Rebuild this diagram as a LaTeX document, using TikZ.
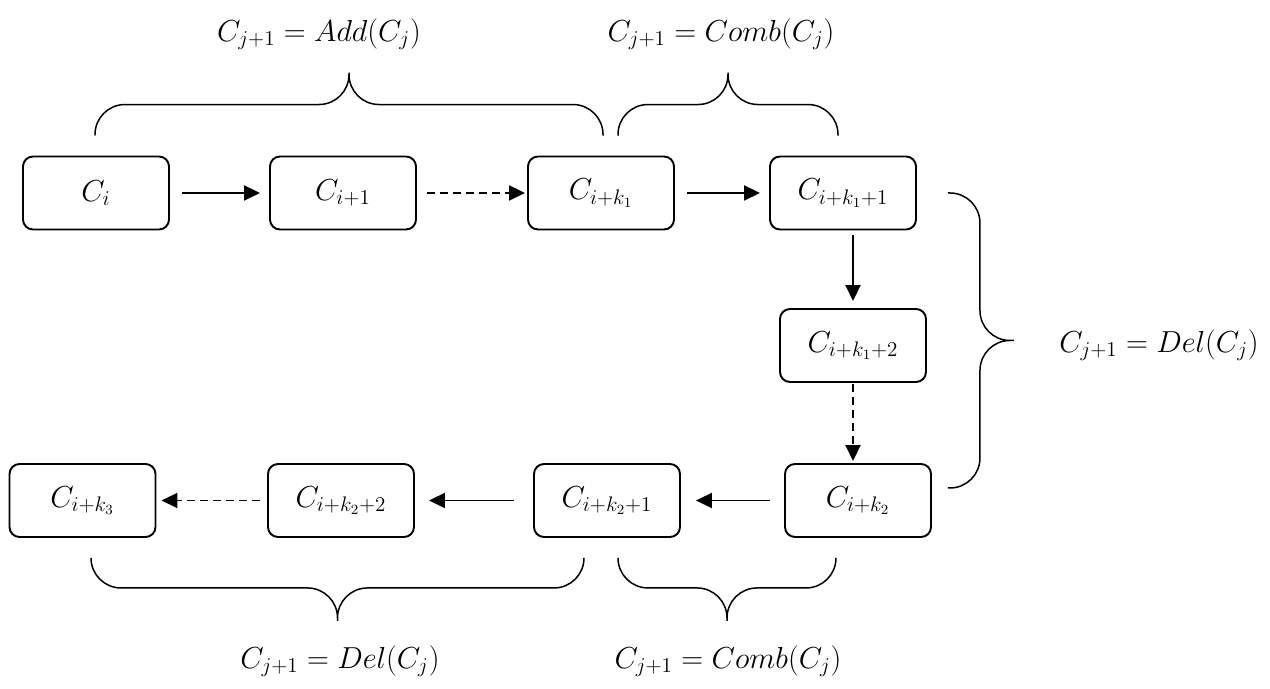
\documentclass[tikz,border=0pt]{standalone}
\usepackage{amsmath}
\usepackage{tikz}
\usetikzlibrary{arrows.meta,calc}

\begin{document}
\begin{tikzpicture}[
		state/.style={draw,line width=1.1pt,rounded corners=0.2cm,minimum width=2.92cm,minimum height=1.46cm,font=\fontsize{17}{20}\selectfont},
		go/.style={line width=1.1pt,-{Triangle[length=0.32cm,width=0.3cm]},shorten <=0.24cm,shorten >=0.18cm},
		godash/.style={go,dash pattern=on 0.16cm off 0.1cm,shorten <=0.2cm,shorten >=0.04cm},
		brc/.style={line width=0.85pt,rounded corners=0.6cm},
		lab/.style={inner sep=0pt,font=\fontsize{17}{20}\selectfont}]
		\useasboundingbox (0,0) rectangle (25.4,13.78);
		% top row
		\node[state] (ci) at (1.92,9.92) {$C_i$};
		\node[state] (ci1) at (6.86,9.92) {$C_{i+1}$};
		\node[state] (cik1) at (12.02,9.92) {$C_{i+k_1}$};
		\node[state] (cik11) at (16.86,9.92) {$C_{i+k_1+1}$};
		% right column
		\node[state] (cik12) at (17.06,6.87) {$C_{i+k_1+2}$};
		\node[state] (cik2) at (17.16,3.77) {$C_{i+k_2}$};
		% bottom row
		\node[state] (cik21) at (12.14,3.77) {$C_{i+k_2+1}$};
		\node[state] (cik22) at (6.82,3.77) {$C_{i+k_2+2}$};
		\node[state] (cik3) at (1.65,3.77) {$C_{i+k_3}$};
		% arrows
		\draw[go] (ci.east) -- (ci1.west);
		\draw[godash] (ci1.east) -- (cik1.west);
		\draw[go] (cik1.east) -- (cik11.west);
		\draw[go,shorten <=0.1cm,shorten >=0.14cm] (cik11.south -| cik12.north) -- (cik12.north);
		\draw[godash,shorten <=0.03cm] (cik12.south) -- (cik12.south |- cik2.north);
		\draw[go,shorten <=0.28cm,shorten >=0.3cm] (cik2.west) -- (cik21.east);
		\draw[go,shorten <=0.38cm,shorten >=0.28cm] (cik21.west) -- (cik22.east);
		\draw[godash,shorten <=0.14cm,shorten >=0.1cm] (cik22.west) -- (cik3.east);
		% braces, top
		\coordinate (addl) at ($(ci.north)+(-0.02,0.4)$);
		\coordinate (addr) at ($(cik1.north)+(0.04,0.4)$);
		\coordinate (addm) at ($(addl)!0.5!(addr)+(0,0.62)$);
		\coordinate (addt) at ($(addm)+(0,0.64)$);
		\draw[brc] (addl) |- (addm) -- (addt) (addt) -- (addm) -| (addr);
		\coordinate (combl) at ($(cik1.north)+(0.34,0.4)$);
		\coordinate (combr) at ($(cik11.north)+(-0.1,0.4)$);
		\coordinate (combm) at ($(combl)!0.5!(combr)+(0,0.62)$);
		\coordinate (combt) at ($(combm)+(0,0.64)$);
		\draw[brc] (combl) |- (combm) -- (combt) (combt) -- (combm) -| (combr);
		% brace, right
		\coordinate (dela) at ($(cik11.east)+(0.62,0)$);
		\coordinate (delb) at ($(cik11.east |- cik2.east)+(0.62,0.25)$);
		\coordinate (delm) at ($(dela)!0.5!(delb)+(0.64,0)$);
		\coordinate (delt) at ($(delm)+(0.68,0)$);
		\draw[brc] (dela) -| (delm) -- (delt) (delt) -- (delm) |- (delb);
		% braces, bottom
		\coordinate (dbl) at ($(cik3.south)+(0.17,-0.4)$);
		\coordinate (dbr) at ($(cik21.south)+(-0.46,-0.4)$);
		\coordinate (dbm) at ($(dbl)!0.5!(dbr)+(0,-0.6)$);
		\coordinate (dbt) at ($(dbm)+(0,-0.66)$);
		\draw[brc] (dbl) |- (dbm) -- (dbt) (dbt) -- (dbm) -| (dbr);
		\coordinate (cbl) at ($(cik21.south)+(0.22,-0.4)$);
		\coordinate (cbr) at ($(cik2.south)+(-0.44,-0.4)$);
		\coordinate (cbm) at ($(cbl)!0.5!(cbr)+(0,-0.6)$);
		\coordinate (cbt) at ($(cbm)+(0,-0.66)$);
		\draw[brc] (cbl) |- (cbm) -- (cbt) (cbt) -- (cbm) -| (cbr);
		% labels
		\node[lab] (ladd) at (6.38,13.1) {$C_{j+1}=Add\mathord{\left(C_j\right)}$};
		\node[lab] (lcombt) at (14.42,13.1) {$C_{j+1}=Comb\mathord{\left(C_j\right)}$};
		\node[lab] (ldelr) at (23.18,6.88) {$C_{j+1}=Del\mathord{\left(C_j\right)}$};
		\node[lab] (ldelb) at (6.8,0.56) {$C_{j+1}=Del\mathord{\left(C_j\right)}$};
		\node[lab] (lcombb) at (14.56,0.56) {$C_{j+1}=Comb\mathord{\left(C_j\right)}$};
	\end{tikzpicture}
\end{document}
